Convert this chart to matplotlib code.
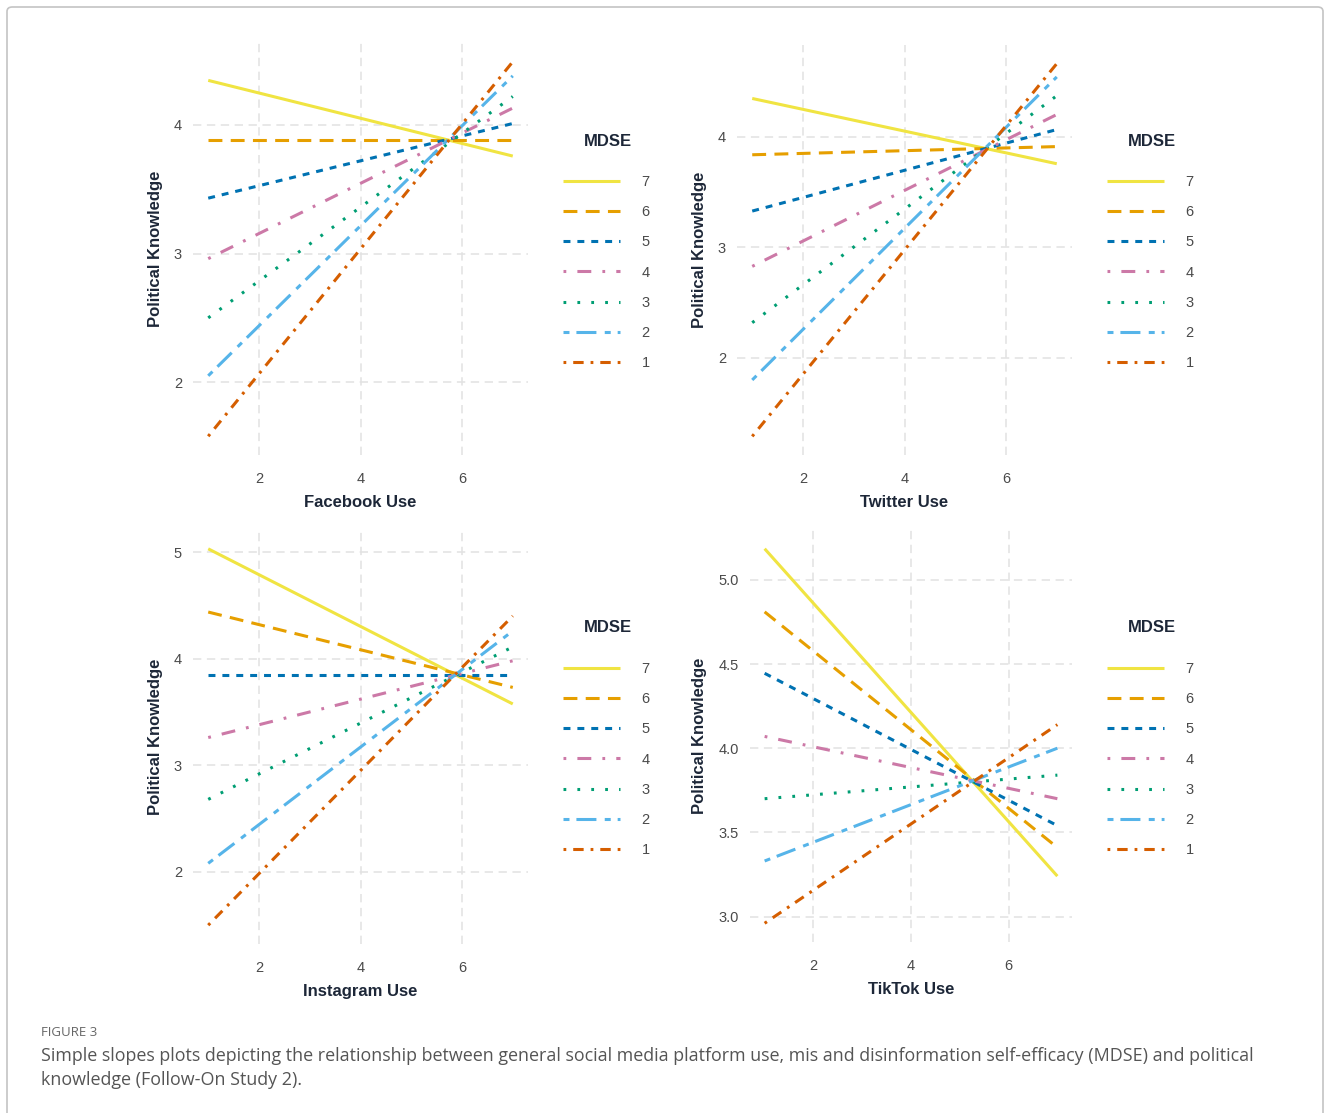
import numpy as np
import matplotlib
matplotlib.use('Agg')
from matplotlib import pyplot as plt
from matplotlib.patches import FancyBboxPatch

plt.rcParams['font.family'] = ['Liberation Sans', 'DejaVu Sans']
plt.rcParams['lines.scale_dashes'] = False

# 数据: 每个MDSE水平在使用量=1和=7处的预测值
use_x = [1, 7]
levels = ['7', '6', '5', '4', '3', '2', '1']
facebook_lo = [4.345, 3.88, 3.43, 2.96, 2.50, 2.05, 1.58]
facebook_hi = [3.757, 3.88, 4.01, 4.13, 4.22, 4.38, 4.49]
twitter_lo = [4.345, 3.836, 3.327, 2.827, 2.318, 1.80, 1.29]
twitter_hi = [3.755, 3.91, 4.064, 4.20, 4.37, 4.54, 4.66]
instagram_lo = [5.03, 4.437, 3.85, 3.26, 2.68, 2.08, 1.50]
instagram_hi = [3.575, 3.73, 3.85, 3.98, 4.11, 4.26, 4.40]
tiktok_lo = [5.185, 4.81, 4.445, 4.07, 3.70, 3.33, 2.96]
tiktok_hi = [3.24, 3.41, 3.54, 3.70, 3.84, 4.00, 4.14]

x_labels = ['Facebook Use', 'Twitter Use', 'Instagram Use', 'TikTok Use']
y_ticks = [[2, 3, 4], [2, 3, 4], [2, 3, 4, 5], [3.0, 3.5, 4.0, 4.5, 5.0]]
x_ticks = [2, 4, 6]

colors = ['#F0E442', '#E69F00', '#0072B2', '#CC79A7', '#009E73', '#56B4E9', '#D55E00']
dashes = [None, (10, 6), (5, 5), (2, 8, 10, 8), (2, 8), (4.3, 5, 14.4, 6), (2, 5, 7.5, 5)]

tick_col = '#4a4a4a'
title_col = '#1d2738'

W, H = 1331, 1113
fig = plt.figure(figsize=(W / 100, H / 100), dpi=100)

# 外框
fig.patches.append(FancyBboxPatch((7 / W, -0.02), 1316 / W, 1 - 7 / H + 0.02,
                                  boxstyle='round,pad=0,rounding_size=0.004',
                                  transform=fig.transFigure, fill=False,
                                  edgecolor='#c4c4c4', linewidth=1.2))

# 面板位置 (像素: 左, 上, 右, 下)
boxes = [(193, 43, 528, 455), (737, 45, 1072, 455),
         (193, 530, 528, 944), (750, 530, 1072, 942)]
legend_top = [141, 141, 628, 628]
legend_left = [563, 1107, 563, 1107]
data = [(facebook_lo, facebook_hi), (twitter_lo, twitter_hi),
        (instagram_lo, instagram_hi), (tiktok_lo, tiktok_hi)]

for k in range(4):
    l, t, r, b = boxes[k]
    ax = fig.add_axes([l / W, 1 - b / H, (r - l) / W, (b - t) / H])
    lo, hi = data[k]
    for i in range(len(levels)):
        line, = ax.plot(use_x, [lo[i], hi[i]], color=colors[i], lw=2.2,
                        solid_capstyle='butt', dash_capstyle='butt', label=levels[i])
        if dashes[i] is not None:
            line.set_dashes(dashes[i])
    ax.margins(0.05)
    ax.set_xticks(x_ticks)
    ax.set_yticks(y_ticks[k])
    if k == 3:
        ax.set_yticklabels(['%.1f' % v for v in y_ticks[k]])
    ax.grid(True, color='#e2e2e2', lw=1.1, linestyle=(0, (6, 4)))
    ax.set_axisbelow(True)
    for s in ax.spines.values():
        s.set_visible(False)
    ax.tick_params(length=0, labelsize=10.5, labelcolor=tick_col)
    ax.tick_params(axis='y', pad=8)
    ax.tick_params(axis='x', pad=12)
    ax.set_xlabel(x_labels[k], fontsize=12, fontweight='bold', color=title_col, labelpad=7)
    ax.set_ylabel('Political Knowledge', fontsize=12, fontweight='bold', color=title_col, labelpad=8)

    # 图例 (标题单独放置)
    lx = legend_left[k]
    ty = legend_top[k]
    leg = ax.legend(loc='upper left', bbox_to_anchor=(lx / W, 1 - (ty + 34) / H),
                    bbox_transform=fig.transFigure, frameon=False,
                    fontsize=10.5, handlelength=3.9, handletextpad=1.5,
                    labelspacing=1.11, borderpad=0, borderaxespad=0)
    for txt in leg.get_texts():
        txt.set_color(tick_col)
    fig.text((lx + 45) / W, 1 - ty / H, 'MDSE', fontsize=12, fontweight='bold',
             color=title_col, ha='center', va='center')

# 图注
fig.text(41 / W, 1 - 1032 / H, 'FIGURE 3', fontsize=9.5, color='#666666',
         family='Open Sans', va='center')
fig.text(41 / W, 1 - 1056 / H,
         'Simple slopes plots depicting the relationship between general social media platform use, '
         'mis and disinformation self-efficacy (MDSE) and political',
         fontsize=12.9, color='#555555', family='Open Sans', va='center')
fig.text(41 / W, 1 - 1080 / H, 'knowledge (Follow-On Study 2).',
         fontsize=12.9, color='#555555', family='Open Sans', va='center')

fig.savefig('out.png', dpi=100)
